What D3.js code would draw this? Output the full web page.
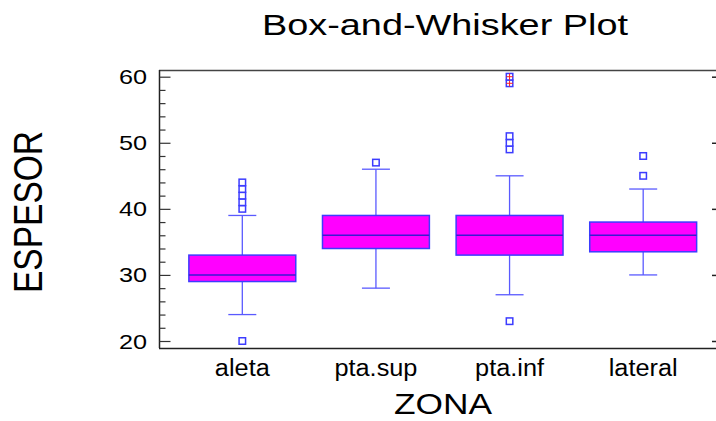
<!DOCTYPE html>
<html><head><meta charset="utf-8">
<script src="https://cdn.jsdelivr.net/npm/d3@7"></script>
<style>html,body{margin:0;padding:0;background:#fff;}svg{display:block;}</style>
</head><body>
<svg id="c" width="716" height="421"></svg>
<script>
const categories = ["aleta", "pta.sup", "pta.inf", "lateral"];
const q1 = [29, 34, 33, 33.5];
const median = [30, 36, 36, 36];
const q3 = [33, 39, 39, 38];
const whiskerLow = [24, 28, 27, 30];
const whiskerHigh = [39, 46, 45, 43];
const outliers = [[20, 40, 41, 42, 43, 44], [47], [23, 49, 50, 51], [45, 48]];
const farOutliers = [[], [], [59, 60], []];
const yTicks = [20, 30, 40, 50, 60];

const svg = d3.select("#c");
const W = 716, H = 421;
const frame = {left: 159, right: 715, top: 70, bottom: 348};
const font = "'Liberation Sans', Arial, Helvetica, sans-serif";

// widen text glyphs (reference uses a wide raster font)
function stretch(sel, factor) {
  sel.each(function () {
    const L = this.getComputedTextLength();
    d3.select(this).attr("textLength", L * factor).attr("lengthAdjust", "spacingAndGlyphs");
  });
}

const y = d3.scaleLinear().domain([20, 60]).range([341, 76.7]);
const x = d3.scaleBand().domain(categories).range([175.5, 710]).paddingInner(0.2).paddingOuter(0.1);
const xc = c => x(c) + x.bandwidth() / 2;

// frame
svg.append("line").attr("x1", frame.left).attr("x2", W).attr("y1", frame.top + 0.5).attr("y2", frame.top + 0.5)
  .attr("stroke", "#444").attr("stroke-width", 1.5);
svg.append("line").attr("x1", frame.left).attr("x2", W).attr("y1", frame.bottom + 0.5).attr("y2", frame.bottom + 0.5)
  .attr("stroke", "#222").attr("stroke-width", 1.5);
svg.append("line").attr("x1", frame.left + 0.5).attr("x2", frame.left + 0.5).attr("y1", frame.top).attr("y2", frame.bottom)
  .attr("stroke", "#222").attr("stroke-width", 1.5);

// left axis: ticks pointing inward
const leftAxis = d3.axisRight(y).tickValues(d3.range(20, 61, 2)).tickSize(6).tickFormat("");
const gL = svg.append("g").attr("transform", `translate(${frame.left + 0.5},0)`).call(leftAxis);
gL.select(".domain").remove();
gL.selectAll(".tick line").attr("stroke", "#333").attr("stroke-width", 1.2)
  .attr("x2", d => d % 10 === 0 ? 11 : 6);
// tick labels
const tl = svg.append("g").selectAll("text").data(yTicks).join("text")
  .attr("x", 147).attr("y", d => y(d)).attr("dy", "0.36em")
  .attr("text-anchor", "end").attr("font-family", font).attr("font-size", 21).attr("fill", "#000")
  .text(d => d);
stretch(tl, 1.2);

// right axis ticks
const rightAxis = d3.axisLeft(y).tickValues(yTicks).tickSize(4).tickFormat("");
const gR = svg.append("g").attr("transform", `translate(${frame.right + 1},0)`).call(rightAxis);
gR.select(".domain").remove();
gR.selectAll(".tick line").attr("stroke", "#222").attr("stroke-width", 1.5);

// boxes
const g = svg.append("g");
const boxC = "#3c3cff", whC = "#5a5aff";
categories.forEach((c, i) => {
  const cx = xc(c), bw = x.bandwidth(), bx = x(c);
  const cap = 14;
  g.append("line").attr("x1", cx).attr("x2", cx).attr("y1", y(q3[i])).attr("y2", y(whiskerHigh[i])).attr("stroke", whC).attr("stroke-width", 1.3);
  g.append("line").attr("x1", cx).attr("x2", cx).attr("y1", y(q1[i])).attr("y2", y(whiskerLow[i])).attr("stroke", whC).attr("stroke-width", 1.3);
  g.append("line").attr("x1", cx - cap).attr("x2", cx + cap).attr("y1", y(whiskerHigh[i])).attr("y2", y(whiskerHigh[i])).attr("stroke", whC).attr("stroke-width", 1.3);
  g.append("line").attr("x1", cx - cap).attr("x2", cx + cap).attr("y1", y(whiskerLow[i])).attr("y2", y(whiskerLow[i])).attr("stroke", whC).attr("stroke-width", 1.3);
  g.append("rect").attr("x", bx).attr("width", bw).attr("y", y(q3[i])).attr("height", y(q1[i]) - y(q3[i]))
    .attr("fill", "#ff00ff").attr("stroke", boxC).attr("stroke-width", 1.5);
  g.append("line").attr("x1", bx).attr("x2", bx + bw).attr("y1", y(median[i])).attr("y2", y(median[i]))
    .attr("stroke", "#3a1ad0").attr("stroke-width", 1.5);
  const s = 6.5;
  outliers[i].forEach(v => {
    g.append("rect").attr("x", cx - s / 2).attr("y", y(v) - s / 2).attr("width", s).attr("height", s)
      .attr("fill", "#fff").attr("stroke", boxC).attr("stroke-width", 1.5);
  });
  farOutliers[i].forEach(v => {
    g.append("rect").attr("x", cx - s / 2).attr("y", y(v) - s / 2).attr("width", s).attr("height", s)
      .attr("fill", "#fff").attr("stroke", boxC).attr("stroke-width", 1.5);
    g.append("line").attr("x1", cx - s / 2).attr("x2", cx + s / 2).attr("y1", y(v)).attr("y2", y(v)).attr("stroke", "#ff2020").attr("stroke-width", 1);
    g.append("line").attr("x1", cx).attr("x2", cx).attr("y1", y(v) - s / 2).attr("y2", y(v) + s / 2).attr("stroke", "#ff2020").attr("stroke-width", 1);
  });
});

// category labels
const cl = svg.append("g").selectAll("text").data(categories).join("text")
  .attr("x", d => xc(d)).attr("y", 376).attr("text-anchor", "middle")
  .attr("font-family", font).attr("font-size", 23).attr("fill", "#000").text(d => d);
stretch(cl, 1.1);

// titles
svg.append("text").attr("x", 445).attr("y", 35).attr("text-anchor", "middle")
  .attr("font-family", font).attr("font-size", 30).attr("fill", "#000")
  .attr("textLength", 366).attr("lengthAdjust", "spacingAndGlyphs").text("Box-and-Whisker Plot");
svg.append("text").attr("x", 443).attr("y", 414).attr("text-anchor", "middle")
  .attr("font-family", font).attr("font-size", 29).attr("fill", "#000")
  .attr("textLength", 98).attr("lengthAdjust", "spacingAndGlyphs").text("ZONA");
svg.append("text").attr("transform", "translate(42,212) rotate(-90)").attr("text-anchor", "middle")
  .attr("font-family", font).attr("font-size", 40).attr("fill", "#000")
  .attr("textLength", 162).attr("lengthAdjust", "spacingAndGlyphs").text("ESPESOR");
</script>
</body></html>
